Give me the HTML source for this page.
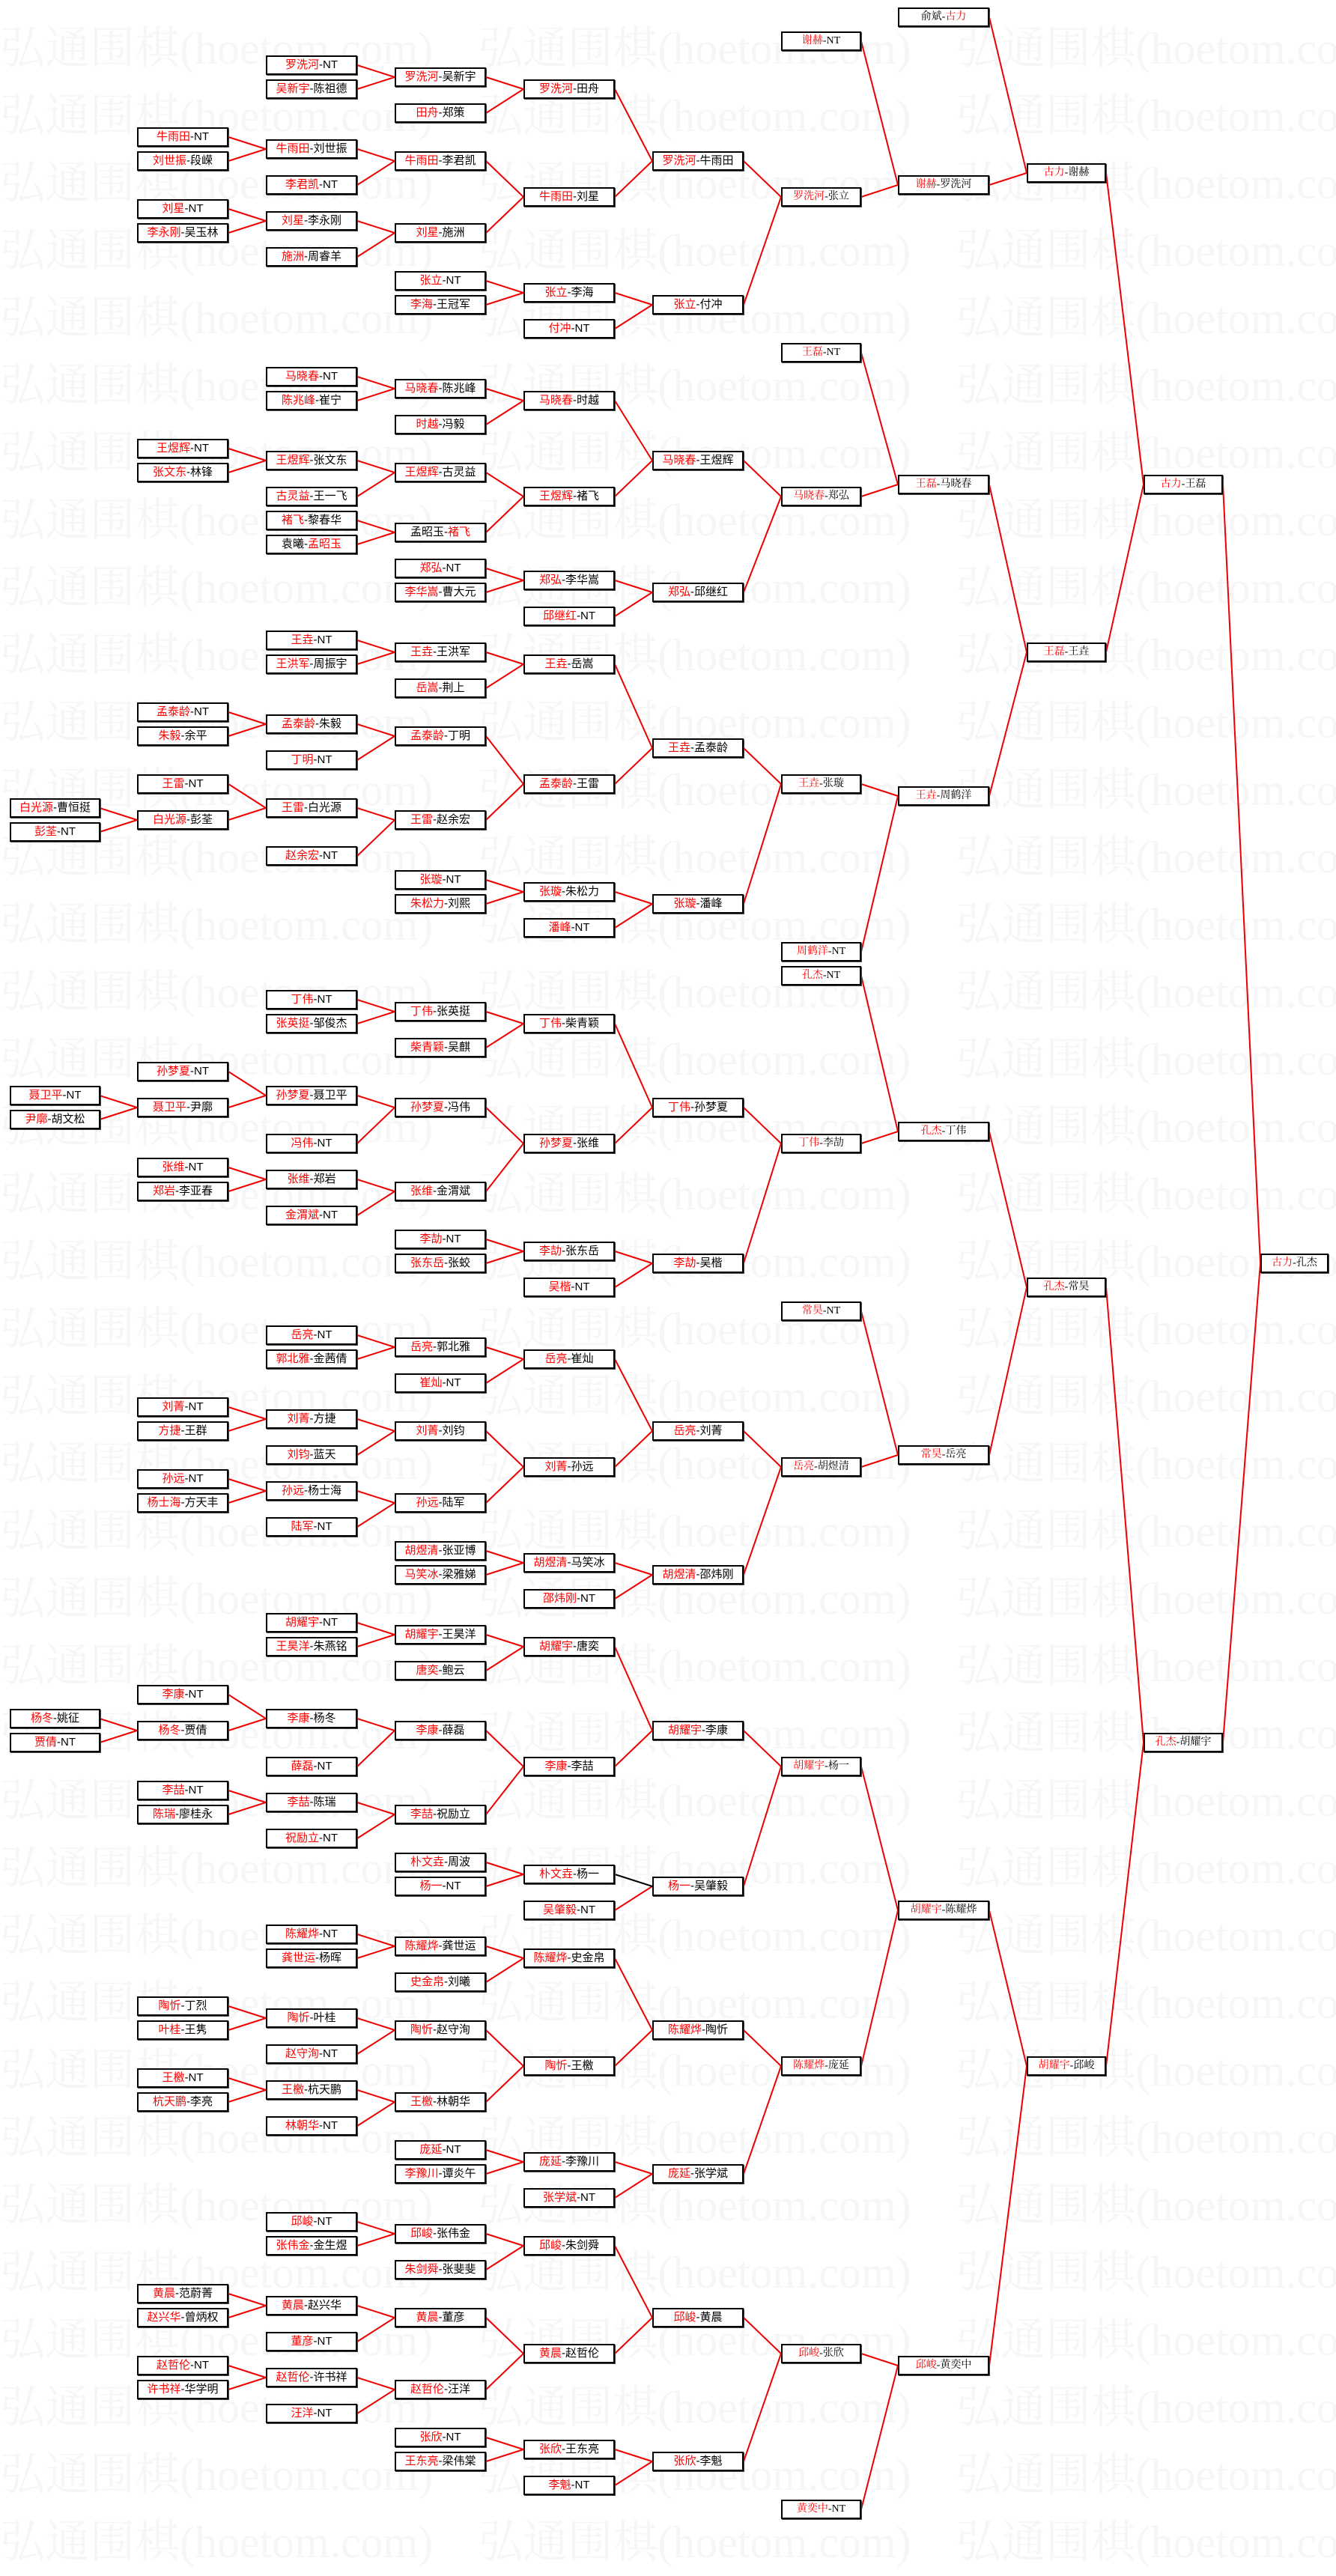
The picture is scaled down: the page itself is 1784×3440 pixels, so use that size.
<!DOCTYPE html>
<html><head><meta charset="utf-8"><style>
html,body{margin:0;padding:0;background:#fff;}
body{width:1784px;height:3373px;position:relative;overflow:hidden;font-family:"Liberation Sans","Noto Sans CJK SC",sans-serif;}
.wm{position:absolute;left:0;top:0;width:1784px;color:#f6f6f6;font-family:"Liberation Serif","Noto Serif CJK SC",serif;font-size:60px;line-height:90px;white-space:nowrap;}
.wm div{height:90px;padding-top:20px;box-sizing:border-box;}
svg{position:absolute;left:0;top:0;}
.b{position:absolute;height:26px;box-sizing:border-box;border:2px solid #000;background:#fff;text-align:center;line-height:22px;font-size:15px;color:#000;white-space:nowrap;box-shadow:1px 1px 0 #444;}
.b i{font-style:normal;color:#f00;}
.c0{left:13px;width:121px}.c1{left:183px;width:122px}.c2{left:355px;width:122px}.c3{left:527px;width:122px}.c4{left:699px;width:122px}.c5{left:871px;width:122px}
.c6{left:1043px;width:107px}.c7{left:1199px;width:122px}.c8{left:1371px;width:106px}.c9{left:1527px;width:106px}.c10{left:1683px;width:91px}
.c6,.c7,.c8,.c9,.c10{font-size:14px;font-family:"Liberation Serif","Noto Serif CJK SC",serif;}
</style></head><body>
<div class="wm">
<div>弘通围棋(hoetom.com)　弘通围棋(hoetom.com)　弘通围棋(hoetom.com)</div>
<div>弘通围棋(hoetom.com)　弘通围棋(hoetom.com)　弘通围棋(hoetom.com)</div>
<div>弘通围棋(hoetom.com)　弘通围棋(hoetom.com)　弘通围棋(hoetom.com)</div>
<div>弘通围棋(hoetom.com)　弘通围棋(hoetom.com)　弘通围棋(hoetom.com)</div>
<div>弘通围棋(hoetom.com)　弘通围棋(hoetom.com)　弘通围棋(hoetom.com)</div>
<div>弘通围棋(hoetom.com)　弘通围棋(hoetom.com)　弘通围棋(hoetom.com)</div>
<div>弘通围棋(hoetom.com)　弘通围棋(hoetom.com)　弘通围棋(hoetom.com)</div>
<div>弘通围棋(hoetom.com)　弘通围棋(hoetom.com)　弘通围棋(hoetom.com)</div>
<div>弘通围棋(hoetom.com)　弘通围棋(hoetom.com)　弘通围棋(hoetom.com)</div>
<div>弘通围棋(hoetom.com)　弘通围棋(hoetom.com)　弘通围棋(hoetom.com)</div>
<div>弘通围棋(hoetom.com)　弘通围棋(hoetom.com)　弘通围棋(hoetom.com)</div>
<div>弘通围棋(hoetom.com)　弘通围棋(hoetom.com)　弘通围棋(hoetom.com)</div>
<div>弘通围棋(hoetom.com)　弘通围棋(hoetom.com)　弘通围棋(hoetom.com)</div>
<div>弘通围棋(hoetom.com)　弘通围棋(hoetom.com)　弘通围棋(hoetom.com)</div>
<div>弘通围棋(hoetom.com)　弘通围棋(hoetom.com)　弘通围棋(hoetom.com)</div>
<div>弘通围棋(hoetom.com)　弘通围棋(hoetom.com)　弘通围棋(hoetom.com)</div>
<div>弘通围棋(hoetom.com)　弘通围棋(hoetom.com)　弘通围棋(hoetom.com)</div>
<div>弘通围棋(hoetom.com)　弘通围棋(hoetom.com)　弘通围棋(hoetom.com)</div>
<div>弘通围棋(hoetom.com)　弘通围棋(hoetom.com)　弘通围棋(hoetom.com)</div>
<div>弘通围棋(hoetom.com)　弘通围棋(hoetom.com)　弘通围棋(hoetom.com)</div>
<div>弘通围棋(hoetom.com)　弘通围棋(hoetom.com)　弘通围棋(hoetom.com)</div>
<div>弘通围棋(hoetom.com)　弘通围棋(hoetom.com)　弘通围棋(hoetom.com)</div>
<div>弘通围棋(hoetom.com)　弘通围棋(hoetom.com)　弘通围棋(hoetom.com)</div>
<div>弘通围棋(hoetom.com)　弘通围棋(hoetom.com)　弘通围棋(hoetom.com)</div>
<div>弘通围棋(hoetom.com)　弘通围棋(hoetom.com)　弘通围棋(hoetom.com)</div>
<div>弘通围棋(hoetom.com)　弘通围棋(hoetom.com)　弘通围棋(hoetom.com)</div>
<div>弘通围棋(hoetom.com)　弘通围棋(hoetom.com)　弘通围棋(hoetom.com)</div>
<div>弘通围棋(hoetom.com)　弘通围棋(hoetom.com)　弘通围棋(hoetom.com)</div>
<div>弘通围棋(hoetom.com)　弘通围棋(hoetom.com)　弘通围棋(hoetom.com)</div>
<div>弘通围棋(hoetom.com)　弘通围棋(hoetom.com)　弘通围棋(hoetom.com)</div>
<div>弘通围棋(hoetom.com)　弘通围棋(hoetom.com)　弘通围棋(hoetom.com)</div>
<div>弘通围棋(hoetom.com)　弘通围棋(hoetom.com)　弘通围棋(hoetom.com)</div>
<div>弘通围棋(hoetom.com)　弘通围棋(hoetom.com)　弘通围棋(hoetom.com)</div>
<div>弘通围棋(hoetom.com)　弘通围棋(hoetom.com)　弘通围棋(hoetom.com)</div>
<div>弘通围棋(hoetom.com)　弘通围棋(hoetom.com)　弘通围棋(hoetom.com)</div>
<div>弘通围棋(hoetom.com)　弘通围棋(hoetom.com)　弘通围棋(hoetom.com)</div>
<div>弘通围棋(hoetom.com)　弘通围棋(hoetom.com)　弘通围棋(hoetom.com)</div>
<div>弘通围棋(hoetom.com)　弘通围棋(hoetom.com)　弘通围棋(hoetom.com)</div>
</div>
<svg width="1784" height="3373" viewBox="0 0 1784 3373">
<g stroke="#e00" stroke-width="2" fill="none">
<path d="M133 1079L183 1095M133 1111L183 1095M133 1463L183 1479M133 1495L183 1479M133 2295L183 2311M133 2327L183 2311"/>
<path d="M305 183L355 199M305 215L355 199M305 279L355 295M305 311L355 295M305 599L355 615M305 631L355 615M305 951L355 967M305 983L355 967M305 1047L355 1079M305 1095L355 1079M305 1431L355 1463M305 1479L355 1463M305 1559L355 1575M305 1591L355 1575M305 1879L355 1895M305 1911L355 1895M305 1975L355 1991M305 2007L355 1991M305 2263L355 2295M305 2311L355 2295M305 2391L355 2407M305 2423L355 2407M305 2679L355 2695M305 2711L355 2695M305 2775L355 2791M305 2807L355 2791M305 3063L355 3079M305 3095L355 3079M305 3159L355 3175M305 3191L355 3175"/>
<path d="M477 87L527 103M477 119L527 103M477 199L527 215M477 247L527 215M477 295L527 311M477 343L527 311M477 503L527 519M477 535L527 519M477 615L527 631M477 663L527 631M477 695L527 711M477 727L527 711M477 855L527 871M477 887L527 871M477 967L527 983M477 1015L527 983M477 1079L527 1095M477 1143L527 1095M477 1335L527 1351M477 1367L527 1351M477 1463L527 1479M477 1527L527 1479M477 1575L527 1591M477 1623L527 1591M477 1783L527 1799M477 1815L527 1799M477 1895L527 1911M477 1943L527 1911M477 1991L527 2007M477 2039L527 2007M477 2167L527 2183M477 2199L527 2183M477 2295L527 2311M477 2359L527 2311M477 2407L527 2423M477 2455L527 2423M477 2583L527 2599M477 2615L527 2599M477 2695L527 2711M477 2743L527 2711M477 2791L527 2807M477 2839L527 2807M477 2967L527 2983M477 2999L527 2983M477 3079L527 3095M477 3127L527 3095M477 3175L527 3191M477 3223L527 3191"/>
<path d="M649 103L699 119M649 151L699 119M649 215L699 263M649 311L699 263M649 375L699 391M649 407L699 391M649 519L699 535M649 567L699 535M649 631L699 663M649 711L699 663M649 759L699 775M649 791L699 775M649 871L699 887M649 919L699 887M649 983L699 1047M649 1095L699 1047M649 1175L699 1191M649 1207L699 1191M649 1351L699 1367M649 1399L699 1367M649 1479L699 1527M649 1591L699 1527M649 1655L699 1671M649 1687L699 1671M649 1799L699 1815M649 1847L699 1815M649 1911L699 1959M649 2007L699 1959M649 2071L699 2087M649 2103L699 2087M649 2183L699 2199M649 2231L699 2199M649 2311L699 2359M649 2423L699 2359M649 2487L699 2503M649 2519L699 2503M649 2599L699 2615M649 2647L699 2615M649 2711L699 2759M649 2807L699 2759M649 2871L699 2887M649 2903L699 2887M649 2983L699 2999M649 3031L699 2999M649 3095L699 3143M649 3191L699 3143M649 3255L699 3271M649 3287L699 3271"/>
<path d="M821 119L871 215M821 263L871 215M821 391L871 407M821 439L871 407M821 535L871 615M821 663L871 615M821 775L871 791M821 823L871 791M821 887L871 999M821 1047L871 999M821 1191L871 1207M821 1239L871 1207M821 1367L871 1479M821 1527L871 1479M821 1671L871 1687M821 1719L871 1687M821 1815L871 1911M821 1959L871 1911M821 2087L871 2103M821 2135L871 2103M821 2199L871 2311M821 2359L871 2311M821 2551L871 2519M821 2615L871 2711M821 2759L871 2711M821 2887L871 2903M821 2935L871 2903M821 2999L871 3095M821 3143L871 3095M821 3271L871 3287M821 3319L871 3287"/>
<path d="M993 215L1043 263M993 407L1043 263M993 615L1043 663M993 791L1043 663M993 999L1043 1047M993 1207L1043 1047M993 1479L1043 1527M993 1687L1043 1527M993 1911L1043 1959M993 2103L1043 1959M993 2311L1043 2359M993 2519L1043 2359M993 2711L1043 2759M993 2903L1043 2759M993 3095L1043 3143M993 3287L1043 3143"/>
<path d="M1150 55L1199 247M1150 263L1199 247M1150 471L1199 647M1150 663L1199 647M1150 1047L1199 1063M1150 1271L1199 1063M1150 1303L1199 1511M1150 1527L1199 1511M1150 1751L1199 1943M1150 1959L1199 1943M1150 2359L1199 2551M1150 2759L1199 2551M1150 3143L1199 3159M1150 3351L1199 3159"/>
<path d="M1321 23L1371 231M1321 247L1371 231M1321 647L1371 871M1321 1063L1371 871M1321 1511L1371 1719M1321 1943L1371 1719M1321 2551L1371 2759M1321 3159L1371 2759"/>
<path d="M1477 231L1527 647M1477 871L1527 647M1477 1719L1527 2327M1477 2759L1527 2327M1633 647L1683 1687M1633 2327L1683 1687"/>
</g>
<path d="M821 2503L871 2519" stroke="#000" stroke-width="2"/>
</svg>

<div class="b c2" style="top:74px"><i>罗洗河</i>-NT</div>
<div class="b c2" style="top:106px"><i>吴新宇</i>-陈祖德</div>
<div class="b c3" style="top:90px"><i>罗洗河</i>-吴新宇</div>
<div class="b c3" style="top:138px"><i>田舟</i>-郑策</div>
<div class="b c4" style="top:106px"><i>罗洗河</i>-田舟</div>
<div class="b c1" style="top:170px"><i>牛雨田</i>-NT</div>
<div class="b c1" style="top:202px"><i>刘世振</i>-段嵘</div>
<div class="b c2" style="top:186px"><i>牛雨田</i>-刘世振</div>
<div class="b c2" style="top:234px"><i>李君凯</i>-NT</div>
<div class="b c3" style="top:202px"><i>牛雨田</i>-李君凯</div>
<div class="b c1" style="top:266px"><i>刘星</i>-NT</div>
<div class="b c1" style="top:298px"><i>李永刚</i>-吴玉林</div>
<div class="b c2" style="top:282px"><i>刘星</i>-李永刚</div>
<div class="b c2" style="top:330px"><i>施洲</i>-周睿羊</div>
<div class="b c3" style="top:298px"><i>刘星</i>-施洲</div>
<div class="b c4" style="top:250px"><i>牛雨田</i>-刘星</div>
<div class="b c5" style="top:202px"><i>罗洗河</i>-牛雨田</div>
<div class="b c3" style="top:362px"><i>张立</i>-NT</div>
<div class="b c3" style="top:394px"><i>李海</i>-王冠军</div>
<div class="b c4" style="top:378px"><i>张立</i>-李海</div>
<div class="b c4" style="top:426px"><i>付冲</i>-NT</div>
<div class="b c5" style="top:394px"><i>张立</i>-付冲</div>
<div class="b c6" style="top:250px"><i>罗洗河</i>-张立</div>
<div class="b c6" style="top:42px"><i>谢赫</i>-NT</div>
<div class="b c7" style="top:234px"><i>谢赫</i>-罗洗河</div>
<div class="b c7" style="top:10px">俞斌-<i>古力</i></div>
<div class="b c8" style="top:218px"><i>古力</i>-谢赫</div>

<div class="b c2" style="top:490px"><i>马晓春</i>-NT</div>
<div class="b c2" style="top:522px"><i>陈兆峰</i>-崔宁</div>
<div class="b c3" style="top:506px"><i>马晓春</i>-陈兆峰</div>
<div class="b c3" style="top:554px"><i>时越</i>-冯毅</div>
<div class="b c4" style="top:522px"><i>马晓春</i>-时越</div>
<div class="b c1" style="top:586px"><i>王煜辉</i>-NT</div>
<div class="b c1" style="top:618px"><i>张文东</i>-林锋</div>
<div class="b c2" style="top:602px"><i>王煜辉</i>-张文东</div>
<div class="b c2" style="top:650px"><i>古灵益</i>-王一飞</div>
<div class="b c3" style="top:618px"><i>王煜辉</i>-古灵益</div>
<div class="b c2" style="top:682px"><i>褚飞</i>-黎春华</div>
<div class="b c2" style="top:714px">袁曦-<i>孟昭玉</i></div>
<div class="b c3" style="top:698px">孟昭玉-<i>褚飞</i></div>
<div class="b c4" style="top:650px"><i>王煜辉</i>-褚飞</div>
<div class="b c5" style="top:602px"><i>马晓春</i>-王煜辉</div>
<div class="b c3" style="top:746px"><i>郑弘</i>-NT</div>
<div class="b c3" style="top:778px"><i>李华嵩</i>-曹大元</div>
<div class="b c4" style="top:762px"><i>郑弘</i>-李华嵩</div>
<div class="b c4" style="top:810px"><i>邱继红</i>-NT</div>
<div class="b c5" style="top:778px"><i>郑弘</i>-邱继红</div>
<div class="b c6" style="top:650px"><i>马晓春</i>-郑弘</div>
<div class="b c6" style="top:458px"><i>王磊</i>-NT</div>
<div class="b c7" style="top:634px"><i>王磊</i>-马晓春</div>
<div class="b c9" style="top:634px"><i>古力</i>-王磊</div>

<div class="b c2" style="top:842px"><i>王垚</i>-NT</div>
<div class="b c2" style="top:874px"><i>王洪军</i>-周振宇</div>
<div class="b c3" style="top:858px"><i>王垚</i>-王洪军</div>
<div class="b c3" style="top:906px"><i>岳嵩</i>-荆上</div>
<div class="b c4" style="top:874px"><i>王垚</i>-岳嵩</div>
<div class="b c1" style="top:938px"><i>孟泰龄</i>-NT</div>
<div class="b c1" style="top:970px"><i>朱毅</i>-余平</div>
<div class="b c2" style="top:954px"><i>孟泰龄</i>-朱毅</div>
<div class="b c2" style="top:1002px"><i>丁明</i>-NT</div>
<div class="b c3" style="top:970px"><i>孟泰龄</i>-丁明</div>
<div class="b c1" style="top:1034px"><i>王雷</i>-NT</div>
<div class="b c0" style="top:1066px"><i>白光源</i>-曹恒挺</div>
<div class="b c0" style="top:1098px"><i>彭荃</i>-NT</div>
<div class="b c1" style="top:1082px"><i>白光源</i>-彭荃</div>
<div class="b c2" style="top:1066px"><i>王雷</i>-白光源</div>
<div class="b c2" style="top:1130px"><i>赵余宏</i>-NT</div>
<div class="b c3" style="top:1082px"><i>王雷</i>-赵余宏</div>
<div class="b c4" style="top:1034px"><i>孟泰龄</i>-王雷</div>
<div class="b c5" style="top:986px"><i>王垚</i>-孟泰龄</div>
<div class="b c3" style="top:1162px"><i>张璇</i>-NT</div>
<div class="b c3" style="top:1194px"><i>朱松力</i>-刘熙</div>
<div class="b c4" style="top:1178px"><i>张璇</i>-朱松力</div>
<div class="b c4" style="top:1226px"><i>潘峰</i>-NT</div>
<div class="b c5" style="top:1194px"><i>张璇</i>-潘峰</div>
<div class="b c6" style="top:1034px"><i>王垚</i>-张璇</div>
<div class="b c6" style="top:1258px"><i>周鹤洋</i>-NT</div>
<div class="b c7" style="top:1050px"><i>王垚</i>-周鹤洋</div>
<div class="b c8" style="top:858px"><i>王磊</i>-王垚</div>

<div class="b c2" style="top:1322px"><i>丁伟</i>-NT</div>
<div class="b c2" style="top:1354px"><i>张英挺</i>-邹俊杰</div>
<div class="b c3" style="top:1338px"><i>丁伟</i>-张英挺</div>
<div class="b c3" style="top:1386px"><i>柴青颖</i>-吴麒</div>
<div class="b c4" style="top:1354px"><i>丁伟</i>-柴青颖</div>
<div class="b c1" style="top:1418px"><i>孙梦夏</i>-NT</div>
<div class="b c0" style="top:1450px"><i>聂卫平</i>-NT</div>
<div class="b c0" style="top:1482px"><i>尹廓</i>-胡文松</div>
<div class="b c1" style="top:1466px"><i>聂卫平</i>-尹廓</div>
<div class="b c2" style="top:1450px"><i>孙梦夏</i>-聂卫平</div>
<div class="b c2" style="top:1514px"><i>冯伟</i>-NT</div>
<div class="b c3" style="top:1466px"><i>孙梦夏</i>-冯伟</div>
<div class="b c1" style="top:1546px"><i>张维</i>-NT</div>
<div class="b c1" style="top:1578px"><i>郑岩</i>-李亚春</div>
<div class="b c2" style="top:1562px"><i>张维</i>-郑岩</div>
<div class="b c2" style="top:1610px"><i>金渭斌</i>-NT</div>
<div class="b c3" style="top:1578px"><i>张维</i>-金渭斌</div>
<div class="b c4" style="top:1514px"><i>孙梦夏</i>-张维</div>
<div class="b c5" style="top:1466px"><i>丁伟</i>-孙梦夏</div>
<div class="b c3" style="top:1642px"><i>李劼</i>-NT</div>
<div class="b c3" style="top:1674px"><i>张东岳</i>-张蛟</div>
<div class="b c4" style="top:1658px"><i>李劼</i>-张东岳</div>
<div class="b c4" style="top:1706px"><i>吴楷</i>-NT</div>
<div class="b c5" style="top:1674px"><i>李劼</i>-吴楷</div>
<div class="b c6" style="top:1514px"><i>丁伟</i>-李劼</div>
<div class="b c6" style="top:1290px"><i>孔杰</i>-NT</div>
<div class="b c7" style="top:1498px"><i>孔杰</i>-丁伟</div>
<div class="b c10" style="top:1674px"><i>古力</i>-孔杰</div>

<div class="b c2" style="top:1770px"><i>岳亮</i>-NT</div>
<div class="b c2" style="top:1802px"><i>郭北雅</i>-金茜倩</div>
<div class="b c3" style="top:1786px"><i>岳亮</i>-郭北雅</div>
<div class="b c3" style="top:1834px"><i>崔灿</i>-NT</div>
<div class="b c4" style="top:1802px"><i>岳亮</i>-崔灿</div>
<div class="b c1" style="top:1866px"><i>刘菁</i>-NT</div>
<div class="b c1" style="top:1898px"><i>方捷</i>-王群</div>
<div class="b c2" style="top:1882px"><i>刘菁</i>-方捷</div>
<div class="b c2" style="top:1930px"><i>刘钧</i>-蓝天</div>
<div class="b c3" style="top:1898px"><i>刘菁</i>-刘钧</div>
<div class="b c1" style="top:1962px"><i>孙远</i>-NT</div>
<div class="b c1" style="top:1994px"><i>杨士海</i>-方天丰</div>
<div class="b c2" style="top:1978px"><i>孙远</i>-杨士海</div>
<div class="b c2" style="top:2026px"><i>陆军</i>-NT</div>
<div class="b c3" style="top:1994px"><i>孙远</i>-陆军</div>
<div class="b c4" style="top:1946px"><i>刘菁</i>-孙远</div>
<div class="b c5" style="top:1898px"><i>岳亮</i>-刘菁</div>
<div class="b c3" style="top:2058px"><i>胡煜清</i>-张亚博</div>
<div class="b c3" style="top:2090px"><i>马笑冰</i>-梁雅娣</div>
<div class="b c4" style="top:2074px"><i>胡煜清</i>-马笑冰</div>
<div class="b c4" style="top:2122px"><i>邵炜刚</i>-NT</div>
<div class="b c5" style="top:2090px"><i>胡煜清</i>-邵炜刚</div>
<div class="b c6" style="top:1946px"><i>岳亮</i>-胡煜清</div>
<div class="b c6" style="top:1738px"><i>常昊</i>-NT</div>
<div class="b c7" style="top:1930px"><i>常昊</i>-岳亮</div>
<div class="b c8" style="top:1706px"><i>孔杰</i>-常昊</div>

<div class="b c2" style="top:2154px"><i>胡耀宇</i>-NT</div>
<div class="b c2" style="top:2186px"><i>王昊洋</i>-朱燕铭</div>
<div class="b c3" style="top:2170px"><i>胡耀宇</i>-王昊洋</div>
<div class="b c3" style="top:2218px"><i>唐奕</i>-鲍云</div>
<div class="b c4" style="top:2186px"><i>胡耀宇</i>-唐奕</div>
<div class="b c1" style="top:2250px"><i>李康</i>-NT</div>
<div class="b c0" style="top:2282px"><i>杨冬</i>-姚征</div>
<div class="b c0" style="top:2314px"><i>贾倩</i>-NT</div>
<div class="b c1" style="top:2298px"><i>杨冬</i>-贾倩</div>
<div class="b c2" style="top:2282px"><i>李康</i>-杨冬</div>
<div class="b c2" style="top:2346px"><i>薛磊</i>-NT</div>
<div class="b c3" style="top:2298px"><i>李康</i>-薛磊</div>
<div class="b c1" style="top:2378px"><i>李喆</i>-NT</div>
<div class="b c1" style="top:2410px"><i>陈瑞</i>-廖桂永</div>
<div class="b c2" style="top:2394px"><i>李喆</i>-陈瑞</div>
<div class="b c2" style="top:2442px"><i>祝励立</i>-NT</div>
<div class="b c3" style="top:2410px"><i>李喆</i>-祝励立</div>
<div class="b c4" style="top:2346px"><i>李康</i>-李喆</div>
<div class="b c5" style="top:2298px"><i>胡耀宇</i>-李康</div>
<div class="b c3" style="top:2474px"><i>朴文垚</i>-周波</div>
<div class="b c3" style="top:2506px"><i>杨一</i>-NT</div>
<div class="b c4" style="top:2490px"><i>朴文垚</i>-杨一</div>
<div class="b c4" style="top:2538px"><i>吴肇毅</i>-NT</div>
<div class="b c5" style="top:2506px"><i>杨一</i>-吴肇毅</div>
<div class="b c6" style="top:2346px"><i>胡耀宇</i>-杨一</div>
<div class="b c7" style="top:2538px"><i>胡耀宇</i>-陈耀烨</div>
<div class="b c9" style="top:2314px"><i>孔杰</i>-胡耀宇</div>

<div class="b c2" style="top:2570px"><i>陈耀烨</i>-NT</div>
<div class="b c2" style="top:2602px"><i>龚世运</i>-杨晖</div>
<div class="b c3" style="top:2586px"><i>陈耀烨</i>-龚世运</div>
<div class="b c3" style="top:2634px"><i>史金帛</i>-刘曦</div>
<div class="b c4" style="top:2602px"><i>陈耀烨</i>-史金帛</div>
<div class="b c1" style="top:2666px"><i>陶忻</i>-丁烈</div>
<div class="b c1" style="top:2698px"><i>叶桂</i>-王隽</div>
<div class="b c2" style="top:2682px"><i>陶忻</i>-叶桂</div>
<div class="b c2" style="top:2730px"><i>赵守洵</i>-NT</div>
<div class="b c3" style="top:2698px"><i>陶忻</i>-赵守洵</div>
<div class="b c1" style="top:2762px"><i>王檄</i>-NT</div>
<div class="b c1" style="top:2794px"><i>杭天鹏</i>-李亮</div>
<div class="b c2" style="top:2778px"><i>王檄</i>-杭天鹏</div>
<div class="b c2" style="top:2826px"><i>林朝华</i>-NT</div>
<div class="b c3" style="top:2794px"><i>王檄</i>-林朝华</div>
<div class="b c4" style="top:2746px"><i>陶忻</i>-王檄</div>
<div class="b c5" style="top:2698px"><i>陈耀烨</i>-陶忻</div>
<div class="b c3" style="top:2858px"><i>庞延</i>-NT</div>
<div class="b c3" style="top:2890px"><i>李豫川</i>-谭炎午</div>
<div class="b c4" style="top:2874px"><i>庞延</i>-李豫川</div>
<div class="b c4" style="top:2922px"><i>张学斌</i>-NT</div>
<div class="b c5" style="top:2890px"><i>庞延</i>-张学斌</div>
<div class="b c6" style="top:2746px"><i>陈耀烨</i>-庞延</div>
<div class="b c8" style="top:2746px"><i>胡耀宇</i>-邱峻</div>

<div class="b c2" style="top:2954px"><i>邱峻</i>-NT</div>
<div class="b c2" style="top:2986px"><i>张伟金</i>-金生煜</div>
<div class="b c3" style="top:2970px"><i>邱峻</i>-张伟金</div>
<div class="b c3" style="top:3018px"><i>朱剑舜</i>-张斐斐</div>
<div class="b c4" style="top:2986px"><i>邱峻</i>-朱剑舜</div>
<div class="b c1" style="top:3050px"><i>黄晨</i>-范蔚菁</div>
<div class="b c1" style="top:3082px"><i>赵兴华</i>-曾炳权</div>
<div class="b c2" style="top:3066px"><i>黄晨</i>-赵兴华</div>
<div class="b c2" style="top:3114px"><i>董彦</i>-NT</div>
<div class="b c3" style="top:3082px"><i>黄晨</i>-董彦</div>
<div class="b c1" style="top:3146px"><i>赵哲伦</i>-NT</div>
<div class="b c1" style="top:3178px"><i>许书祥</i>-华学明</div>
<div class="b c2" style="top:3162px"><i>赵哲伦</i>-许书祥</div>
<div class="b c2" style="top:3210px"><i>汪洋</i>-NT</div>
<div class="b c3" style="top:3178px"><i>赵哲伦</i>-汪洋</div>
<div class="b c4" style="top:3130px"><i>黄晨</i>-赵哲伦</div>
<div class="b c5" style="top:3082px"><i>邱峻</i>-黄晨</div>
<div class="b c3" style="top:3242px"><i>张欣</i>-NT</div>
<div class="b c3" style="top:3274px"><i>王东亮</i>-梁伟棠</div>
<div class="b c4" style="top:3258px"><i>张欣</i>-王东亮</div>
<div class="b c4" style="top:3306px"><i>李魁</i>-NT</div>
<div class="b c5" style="top:3274px"><i>张欣</i>-李魁</div>
<div class="b c6" style="top:3130px"><i>邱峻</i>-张欣</div>
<div class="b c6" style="top:3338px"><i>黄奕中</i>-NT</div>
<div class="b c7" style="top:3146px"><i>邱峻</i>-黄奕中</div>
</body></html>
